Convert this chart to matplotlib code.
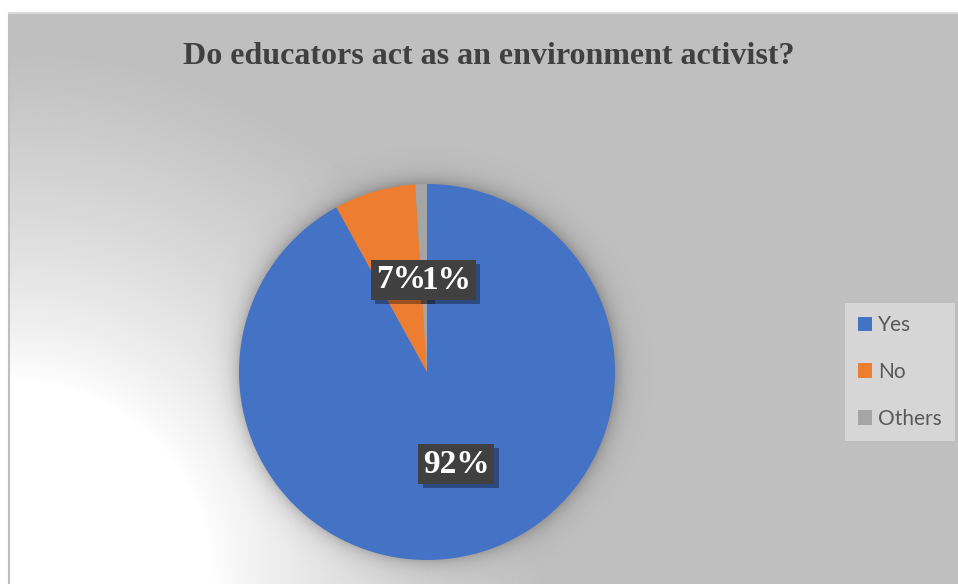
import numpy as np
import matplotlib.pyplot as plt
from matplotlib import patheffects as pe

# survey answers
labels = ['Yes', 'No', 'Others']
shares = [92, 7, 1]
pct_text = ['92%', '7%', '1%']
colors = ['#4472C4', '#ED7D31', '#A5A5A5']
title = 'Do educators act as an environment activist?'

W, H = 958, 584
fig = plt.figure(figsize=(W / 100, H / 100), dpi=100)

# chart area background: radial fade from white (bottom-left) to grey
bg = fig.add_axes([0, 0, 1, 1])
yy, xx = np.mgrid[0:H, 0:W] + 0.5
d = np.hypot(xx - 9, yy - H)
t = np.clip((d - 205) / 330, 0, 1) ** 0.8
shade = 1 - (1 - 191 / 255) * t
shade[(xx < 9) | (yy < 12)] = 1.0
bg.imshow(np.dstack([shade] * 3), extent=(0, W, H, 0), aspect='auto',
          interpolation='bilinear')
bg.plot([9.5, 9.5], [H, 12.5], color='#BFBFBF', lw=1.5)
bg.plot([9.5, W], [12.5, 12.5], color='#D9D9D9', lw=1.5)
bg.set_xlim(0, W)
bg.set_ylim(H, 0)
bg.axis('off')

# pie axes, sized so radius 1 = R pixels
R = 188
cx, cy = 427, 372
lim = 1.3
side = 2 * lim * R
ax = fig.add_axes([(cx - lim * R) / W, (H - cy - lim * R) / H, side / W, side / H])

# soft shadow around the pie
g = np.linspace(-lim, lim, 700)
gx, gy = np.meshgrid(g, g)
rr = np.maximum(np.hypot(gx, gy), 1.0)
glow = np.zeros((700, 700, 4))
glow[..., 3] = 0.22 * np.exp(-(rr - 1) / 0.05)
ax.imshow(glow, extent=(-lim, lim, -lim, lim), zorder=0, interpolation='bilinear')

wedges, _ = ax.pie(shares, colors=colors, startangle=90, counterclock=False,
                   radius=1, wedgeprops=dict(linewidth=0))
ax.set_xlim(-lim, lim)
ax.set_ylim(-lim, lim)
ax.set_aspect('equal')
ax.axis('off')

# percentage labels in dark boxes at half radius; boxes first, text on top
shifts = [(6, -1), (0, 2), (22, -2)]
font = dict(ha='center', va='center', family='Liberation Serif',
            weight='bold', size=24, textcoords='offset pixels')
for w, txt, (sx, sy) in zip(wedges, pct_text, shifts):
    mid = np.deg2rad((w.theta1 + w.theta2) / 2)
    xy = (0.5 * np.cos(mid), 0.5 * np.sin(mid))
    box = ax.annotate(txt, xy, xytext=(sx, sy), color='none', zorder=5,
                      bbox=dict(boxstyle='square,pad=0.14', fc='#404040', ec='none'),
                      **font)
    box.get_bbox_patch().set_path_effects(
        [pe.SimplePatchShadow(offset=(3, -3), shadow_rgbFace='black', alpha=0.35),
         pe.Normal()])
    ax.annotate(txt, xy, xytext=(sx, sy), color='white', zorder=6, **font)

fig.text(489 / W, 1 - 64 / H, title, ha='center', va='baseline',
         family='Liberation Serif', weight='bold', size=23, color='#404040')

fig.legend(wedges, labels, loc='center left', bbox_to_anchor=(845 / W, 1 - 372 / H),
           frameon=True, fancybox=False, facecolor='#D6D6D6', edgecolor='none',
           framealpha=1, prop=dict(family='Lato', size=15), labelcolor='#595959',
           handlelength=0.7, handleheight=0.7, handletextpad=0.3,
           labelspacing=1.28, borderpad=0.6, borderaxespad=0)

fig.savefig('out.png', dpi=100)
